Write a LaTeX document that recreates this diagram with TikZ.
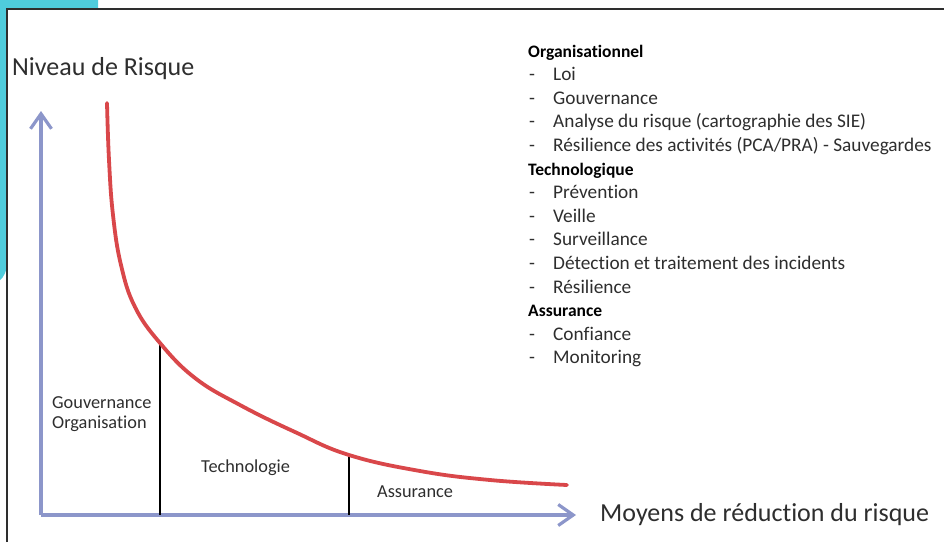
\documentclass[tikz,border=0pt]{standalone}
\usepackage{fontspec}
\setmainfont{Carlito}[Ligatures=NoCommon]
\usetikzlibrary{arrows.meta}
\definecolor{axisblue}{HTML}{8C96CA}
\definecolor{curvered}{HTML}{D9474A}
\definecolor{framecyan}{HTML}{4FCCDC}
\definecolor{inkgrey}{HTML}{2E2E2E}
\tikzset{
  axisline/.style = {draw=axisblue, line width=3.6pt, -{Straight Barb[length=15pt,width=21pt,line width=3.2pt]}},
  riskcurve/.style = {draw=curvered, line width=3.8pt, line cap=round},
  splitline/.style = {draw=black, line width=1.3pt},
  biglabel/.style = {text=inkgrey, font=\fontsize{26}{28}\selectfont, inner sep=0pt},
  smalllabel/.style = {text=inkgrey, font=\fontsize{18.3}{20}\selectfont, inner sep=0pt},
  listitem/.style = {text=inkgrey, font=\fontsize{19.3}{21}\selectfont, inner sep=0pt, anchor=base west},
  listhead/.style = {text=black, font=\fontsize{17.5}{20}\bfseries\selectfont, inner sep=0pt, anchor=base west}
}
\begin{document}
\begin{tikzpicture}[x=1pt,y=-1pt]
\useasboundingbox (0,0) rectangle (944,542);
\fill[white] (0,0) rectangle (944,542);
%%Cadre
\fill[framecyan] (0,0) -- (98,0) -- (98,9) -- (7,9) -- (7,262) .. controls (7,272) and (3,278) .. (0,280) -- cycle;
\draw[inkgrey, line width=2.6pt] (7,542) -- (7,9) -- (944,9);
%%Axes
\coordinate (O) at (41,515);
\coordinate (ytip) at (41,111);
\coordinate (xtip) at (576,515);
\draw[axisline] (O) -- (ytip);
\draw[axisline] (O) -- (xtip);
\node[biglabel, anchor=base west] (ylab) at (12,75) {Niveau de Risque};
\node[biglabel, anchor=base west] (xlab) at (600,521) {Moyens de réduction du risque};
%%Zones
\coordinate (s1top) at (160,343);
\coordinate (s1bot) at (160,515);
\coordinate (s2top) at (349,455);
\coordinate (s2bot) at (349,515);
\draw[splitline] (s1top) -- (s1bot);
\draw[splitline] (s2top) -- (s2bot);
%%Courbe
\draw[riskcurve] plot[smooth, tension=0.7] coordinates {(107,103) (109,160) (113,215) (121,265) (135,307) (160,343) (195,378) (240,405) (295,432) (349,455) (420,471) (490,480) (567,485)};
%%Libelles des zones
\node[smalllabel, anchor=base west] (gouv) at (52,408) {Gouvernance};
\node[smalllabel, anchor=base west] (orga) at (52,428) {Organisation};
\node[smalllabel, anchor=base west] (techno) at (201,472) {Technologie};
\node[smalllabel, anchor=base west] (assur) at (377,497) {Assurance};
%%Liste
\foreach \k/\txt in {0/Organisationnel,5/Technologique,11/Assurance}
  \node[listhead] (head\k) at (528,57+23.6*\k) {\txt};
\foreach \k/\txt in {1/Loi,2/Gouvernance,3/{Analyse du risque (cartographie des SIE)},4/{Résilience des activités (PCA/PRA) - Sauvegardes},6/Prévention,7/Veille,8/Surveillance,9/{Détection et traitement des incidents},10/Résilience,12/Confiance,13/Monitoring}
{
  \node[listitem] (dash\k) at (529,57+23.6*\k) {-};
  \node[listitem] (item\k) at (553,57+23.6*\k) {\txt};
}
\end{tikzpicture}
\end{document}
